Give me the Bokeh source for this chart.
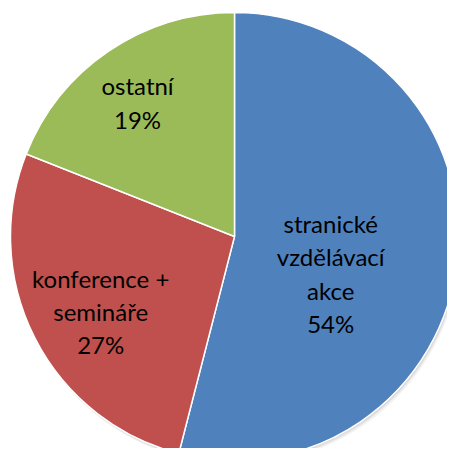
import math
from bokeh.plotting import figure
from bokeh.models import Range1d, ColumnDataSource
from bokeh.core.properties import value
from bokeh.embed import file_html
from bokeh.resources import INLINE

# ---- data ----
categories = ["stranické\nvzdělávací\nakce", "konference +\nsemináře", "ostatní"]
shares = [54, 27, 19]
colors = ["#4F81BD", "#C0504D", "#9BBB59"]

# ---- layout constants ----
W, H = 447, 448
R_PX = 224.0
CX_PX, CY_PX = 234.0, 236.0
label_r = [0.46, 0.685, 0.738]
label_shift_deg = [13.8, -2.3, -1.7]

total = float(sum(shares))
starts, ends, lx, ly, texts = [], [], [], [], []
cum = 0.0
for i, v in enumerate(shares):
    f0 = cum / total
    cum += v
    f1 = cum / total
    starts.append(math.pi / 2 - f0 * 2 * math.pi)
    ends.append(math.pi / 2 - f1 * 2 * math.pi)
    mid = (f0 + f1) / 2 * 360 + label_shift_deg[i]
    a = math.radians(mid)
    lx.append(label_r[i] * math.sin(a))
    ly.append(label_r[i] * math.cos(a))
    texts.append(f"{categories[i]}\n{round(v / total * 100)}%")

src = ColumnDataSource(dict(start=starts, end=ends, color=colors))
lsrc = ColumnDataSource(dict(x=lx, y=ly, text=texts))

p = figure(width=W, height=H, output_backend="svg", toolbar_location=None,
           min_border=0, min_border_left=0, min_border_right=0,
           min_border_top=0, min_border_bottom=0)
p.x_range = Range1d(-CX_PX / R_PX, (W - CX_PX) / R_PX)
p.y_range = Range1d(-(H - CY_PX) / R_PX, CY_PX / R_PX)
p.axis.visible = False
p.grid.visible = False
p.outline_line_color = None
p.background_fill_color = "white"
p.border_fill_color = "white"

# faint shadow
for k, al in [(0.018, 0.10), (0.011, 0.15), (0.005, 0.2)]:
    p.circle(x=k * 0.6, y=-k, radius=1.0, fill_color="#808080", fill_alpha=al,
             line_color=None)

p.wedge(x=0, y=0, radius=1.0, start_angle="start", end_angle="end",
        direction="clock", fill_color="color", line_color="white",
        line_width=1.5, source=src)

p.text(x="x", y="y", text="text", source=lsrc, text_align="center",
       text_baseline="middle", text_font=value("Lato"),
       text_font_size="24px", text_color="black", text_line_height=1.15)

open("out.html", "w").write(file_html(p, INLINE))
